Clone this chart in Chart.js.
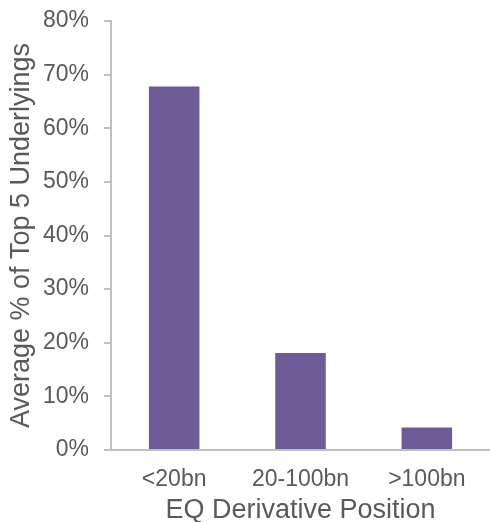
<!DOCTYPE html>
<html>
<head>
<meta charset="utf-8">
<script src="https://cdn.jsdelivr.net/npm/chart.js@4"></script>
<style>
  html, body { margin: 0; padding: 0; background: #fff; }
  #wrap { width: 490px; height: 522px; }
</style>
</head>
<body>
<div id="wrap"><canvas id="chart" width="490" height="522"></canvas></div>
<script>
const categories = ['<20bn', '20-100bn', '>100bn'];
const avgTop5Share = [67.8, 18.1, 4.2];
const yTicks = [0, 10, 20, 30, 40, 50, 60, 70, 80];

const gray = '#595959';
const axisGray = '#bfbfbf';
const tickFont = { family: 'Liberation Sans, Arial, sans-serif', size: 23 };
const titleFont = { family: 'Liberation Sans, Arial, sans-serif', size: 27 };

new Chart(document.getElementById('chart'), {
    type: 'bar',
    data: {
        labels: categories,
        datasets: [{
            data: avgTop5Share,
            backgroundColor: '#6d5a97',
            barPercentage: 0.4,
            categoryPercentage: 1
        }]
    },
    options: {
        responsive: false,
        animation: false,
        layout: { padding: { top: 21, right: -4, left: 0, bottom: 0 } },
        plugins: {
            legend: { display: false },
            tooltip: { enabled: false }
        },
        scales: {
            x: {
                grid: { display: false, drawTicks: false },
                border: { color: axisGray, width: 2 },
                ticks: { color: gray, font: tickFont, padding: 16 },
                title: {
                    display: true,
                    text: 'EQ Derivative Position',
                    color: gray,
                    font: titleFont,
                    padding: { top: 0, bottom: -5 }
                },
                afterFit: s => { s.height = 72; s.paddingLeft = 0; s.paddingRight = 0; }
            },
            y: {
                min: 0,
                max: 80,
                afterBuildTicks: s => { s.ticks = yTicks.map(v => ({ value: v })); },
                grid: { drawOnChartArea: false, color: axisGray, lineWidth: 2, tickLength: 7 },
                border: { color: axisGray, width: 2 },
                ticks: { color: gray, font: tickFont, padding: 15, callback: v => v + '%' },
                title: {
                    display: true,
                    text: 'Average % of Top 5 Underlyings',
                    color: gray,
                    font: titleFont,
                    padding: { top: 5, bottom: 0 }
                },
                afterFit: s => { s.width = 111; s.paddingTop = 0; s.paddingBottom = 0; }
            }
        }
    }
});
</script>
</body>
</html>
